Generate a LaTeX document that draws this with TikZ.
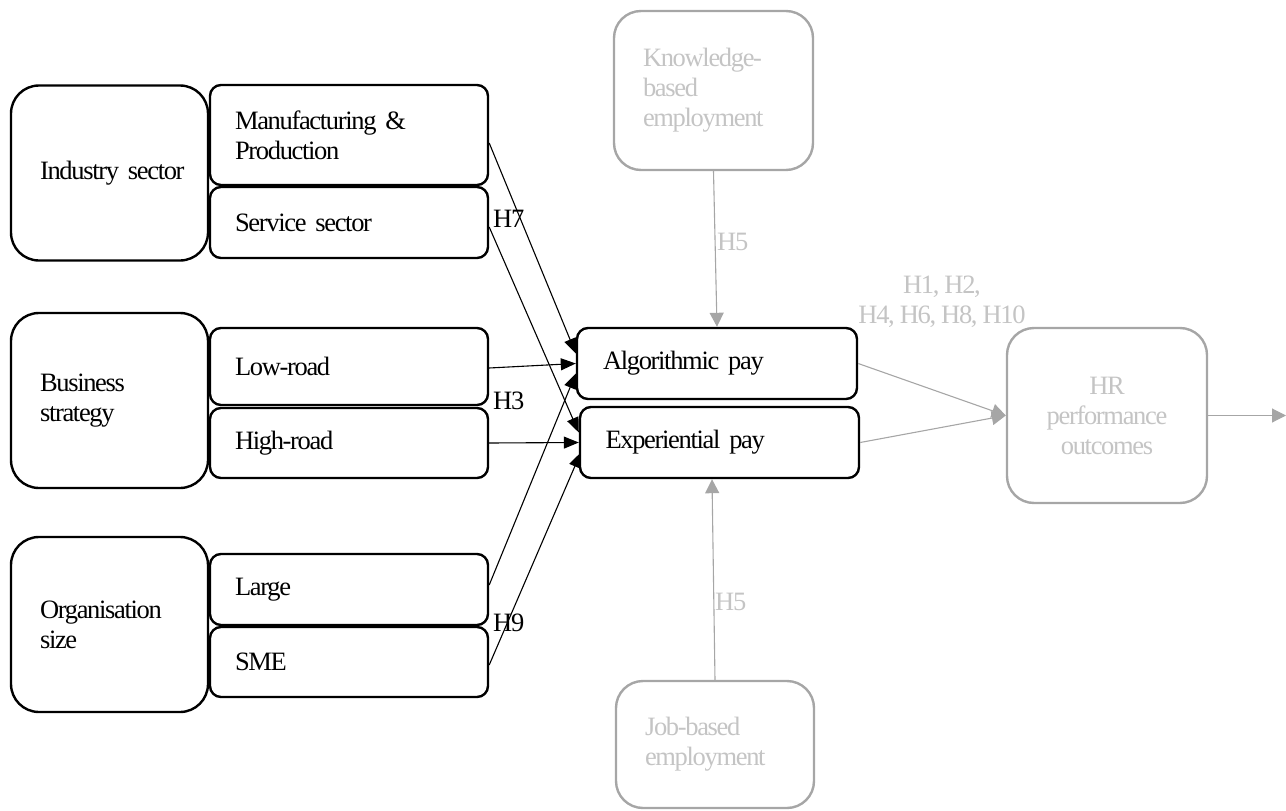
\documentclass[tikz,border=0pt]{standalone}
\usepackage{fontspec}
\setmainfont{Liberation Serif}[LetterSpace=-5]
\usetikzlibrary{arrows.meta,calc}
\definecolor{boxgray}{HTML}{A6A6A6}
\definecolor{txtgray}{HTML}{C4C4C4}
\newcommand\diagfont{\fontsize{26.5}{30}\selectfont\spaceskip=5pt\relax\xspaceskip=5pt\relax}
\tikzset{
  grp/.style={draw, line width=2.4pt, rounded corners=28pt, text width=139pt,
    inner xsep=29pt, inner ysep=0pt, align=left, minimum height=175pt},
  lvl/.style={draw, line width=2.4pt, rounded corners=11pt, text width=228pt,
    inner xsep=25pt, inner ysep=0pt, align=left},
  pay/.style={draw, line width=2.4pt, rounded corners=11pt, text width=228pt,
    inner xsep=26pt, inner ysep=0pt, align=left, minimum height=71pt},
  ctx/.style={draw=boxgray, text=txtgray, line width=2.4pt, rounded corners=27pt,
    inner ysep=0pt},
  link/.style={line width=1.1pt, -{Triangle[length=15pt,width=12pt]}},
  glink/.style={draw=boxgray, line width=1.1pt,
    -{Triangle[length=14pt,width=14pt,fill=boxgray]}},
  hyp/.style={inner sep=0pt, anchor=base west},
  ghyp/.style={inner sep=0pt, text=txtgray, align=center}
}
\begin{document}
\hyphenpenalty=10000
\hbadness=10000
\hfuzz=20pt
\begin{tikzpicture}[x=1pt,y=-1pt,
  every node/.style={font=\diagfont}]
\useasboundingbox (0,0) rectangle (1286,811);

% context variables
\node[grp] (ind) at (109.5,173) {\mbox{Industry sector}};
\node[grp] (bus) at (109.5,400.5) {Business\\strategy};
\node[grp] (org) at (109.5,624.5) {Organisation\\size};

% their levels
\node[lvl, minimum height=100pt] (man) at (349,135) {Manufacturing \&\\Production};
\node[lvl, minimum height=71pt] (ser) at (349,222.5) {Service sector};
\node[lvl, minimum height=77pt] (low) at (349,366.5) {Low-road};
\node[lvl, minimum height=70pt] (high) at (349,443) {High-road};
\node[lvl, minimum height=71pt] (large) at (349,589.5) {Large};
\node[lvl, minimum height=70pt] (sme) at (349,662) {SME};

% pay systems
\node[pay] (alg) at (717,363.5) {Algorithmic pay};
\node[pay, text width=228pt, inner xsep=25.5pt] (exp) at (719.5,442.5) {Experiential pay};

% employment context and outcomes
\node[ctx, text width=141pt, inner xsep=29pt, align=left, minimum height=159pt]
  (kb) at (713.5,90.5) {Knowledge-\\based\\employment};
\node[ctx, text width=140pt, inner xsep=29pt, align=left, minimum height=127pt]
  (jb) at (715,744.5) {Job-based\\employment};
\node[ctx, text width=180pt, inner xsep=10pt, align=center, minimum height=175pt]
  (hr) at (1107,415.5) {HR\\performance\\outcomes};
\coordinate (out) at (1286,415.5);

% hypothesised links into the pay systems
\draw[link] ([yshift=-8pt]man.east) -- ([yshift=10pt]alg.west);
\draw[link] ([yshift=-4.5pt]ser.east) -- ([yshift=10pt]exp.west);
\draw[link] ([yshift=-1.5pt]low.east) -- (alg.west);
\draw[link] (high.east) -- (exp.west);
\draw[link] ([yshift=4.5pt]large.east) -- ([yshift=-10pt]alg.west);
\draw[link] ([yshift=-3pt]sme.east) -- ([xshift=2pt,yshift=-10pt]exp.west);

\node[hyp] (h7) at (493,227) {H7};
\node[hyp] (h3) at (493,409) {H3};
\node[hyp] (h9) at (493,631) {H9};

% moderators and outcomes
\draw[glink] (kb.south) -- (alg.north);
\draw[glink] (jb.north) -- ([xshift=-7.5pt]exp.south);
\draw[glink] (alg.east) -- (hr.west);
\draw[glink] (exp.east) -- (hr.west);
\draw[glink] (hr.east) -- (out);

\node[ghyp, anchor=base west] (h5a) at (717,250) {H5};
\node[ghyp, anchor=base west] (h5b) at (715,610) {H5};
\node[ghyp, anchor=base] (h1) at (942,293) {H1, H2,};
\node[ghyp, anchor=base] (h4) at (942,323) {H4, H6, H8, H10};
\end{tikzpicture}
\end{document}
